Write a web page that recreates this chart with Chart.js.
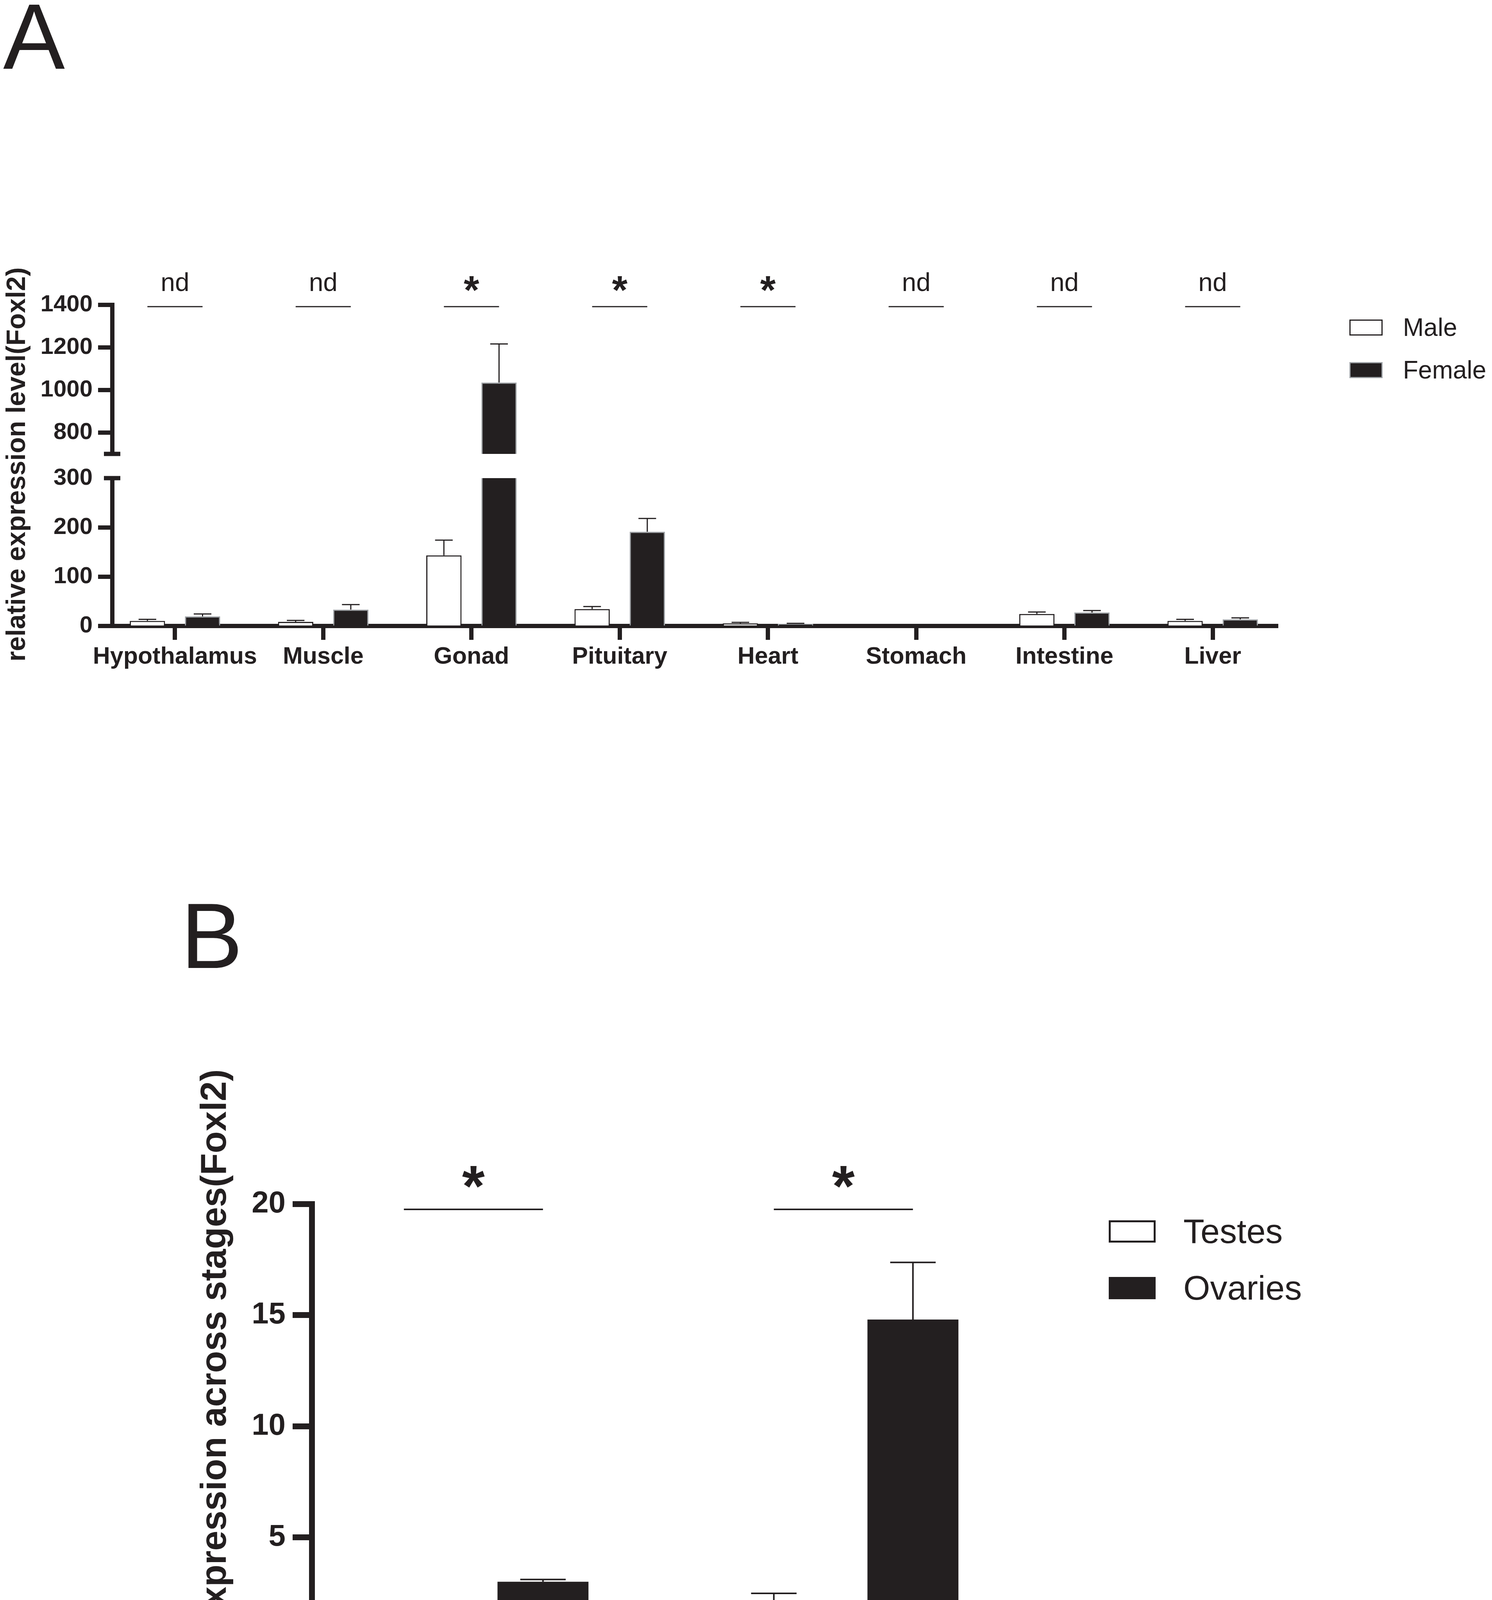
<!DOCTYPE html>
<html>
<head>
<meta charset="utf-8">
<script src="https://cdn.jsdelivr.net/npm/chart.js@4.4.0/dist/chart.umd.min.js"></script>
<style>
  html, body { margin: 0; padding: 0; background: #fff; }
  #page { position: relative; width: 3819px; height: 4579px; overflow: hidden; background: #fff; }
  canvas { position: absolute; left: 0; }
</style>
</head>
<body>
<div id="page">
  <canvas id="graphATop" width="3819" height="1800" style="top:0"></canvas>
  <canvas id="graphABottom" width="3819" height="1800" style="top:0"></canvas>
  <canvas id="graphB" width="3819" height="2379" style="top:2200px"></canvas>
</div>
<script>
// panel A: tissues
const tissues = ["Hypothalamus", "Muscle", "Gonad", "Pituitary", "Heart", "Stomach", "Intestine", "Liver"]
const maleLevel = [10, 8, 143, 34, 5, 0, 24, 10]
const maleError = [3, 3, 31, 5, 2, 0, 4, 3]
const femaleLevel = [19, 33, 1035, 191, 4, 0, 27, 13]
const femaleError = [5, 10, 181, 27, 1, 0, 4, 3]
const tissueMarks = ["nd", "nd", "*", "*", "*", "nd", "nd", "nd"]
const upperTicks = [800, 1000, 1200, 1400]
const lowerTicks = [0, 100, 200, 300]
const sexLabels = ["Male", "Female"]

// panel B: stages
const stages = ["8 month", "12 month"]
const testesLevel = [0.97, 2.03]
const testesError = [0.37, 0.45]
const ovariesLevel = [3.0, 14.8]
const ovariesError = [0.1, 2.57]
const stageMarks = ["*", "*"]
const stageTicks = [0, 5, 10, 15, 20]
const organLabels = ["Testes", "Ovaries"]

const INK = "#231f20"
const GREY = "#9ea2a6"
const FONT = '"Liberation Sans", Arial, Helvetica, sans-serif'
const B_TOP = 2200

function points(values) {
    return values.map((v, i) => ({ x: i, y: v }))
}

const errorBars = {
    id: "errorBars",
    afterDatasetsDraw(chart, args, o) {
        const ctx = chart.ctx
        const area = chart.chartArea
        const y = chart.scales.y
        ctx.save()
        ctx.beginPath()
        ctx.rect(0, area.top, chart.width, area.bottom - area.top)
        ctx.clip()
        ctx.strokeStyle = INK
        ctx.lineWidth = o.width
        chart.data.datasets.forEach((ds, d) => {
            chart.getDatasetMeta(d).data.forEach((bar, i) => {
                const err = ds.errors[i]
                if (!err) return
                const top = y.getPixelForValue(ds.data[i].y + err)
                const half = bar.width / 4
                ctx.beginPath()
                ctx.moveTo(bar.x, bar.y)
                ctx.lineTo(bar.x, top)
                ctx.moveTo(bar.x - half, top)
                ctx.lineTo(bar.x + half, top)
                ctx.stroke()
            })
        })
        ctx.restore()
    }
}

const significance = {
    id: "significance",
    afterDraw(chart, args, o) {
        if (!o.marks) return
        const ctx = chart.ctx
        const first = chart.getDatasetMeta(0).data
        const second = chart.getDatasetMeta(1).data
        const top = chart.chartArea.top
        ctx.save()
        ctx.strokeStyle = INK
        ctx.fillStyle = INK
        ctx.lineWidth = o.lineWidth
        ctx.textAlign = "center"
        ctx.textBaseline = "alphabetic"
        o.marks.forEach((m, i) => {
            const x1 = first[i].x
            const x2 = second[i].x
            const ly = top + o.lineOffset
            ctx.beginPath()
            ctx.moveTo(x1, ly)
            ctx.lineTo(x2, ly)
            ctx.stroke()
            const star = m === "*"
            ctx.font = star ? o.starFont : o.textFont
            ctx.fillText(m, (x1 + x2) / 2, top + (star ? o.starBase : o.textBase))
        })
        ctx.restore()
    }
}

const legendBoxes = {
    id: "legendBoxes",
    afterDraw(chart, args, o) {
        if (!o.left) return
        const ctx = chart.ctx
        ctx.save()
        ctx.font = o.font
        ctx.textAlign = "left"
        ctx.textBaseline = "alphabetic"
        chart.data.datasets.forEach((ds, i) => {
            const y = o.top + i * o.step
            ctx.fillStyle = ds.backgroundColor
            ctx.fillRect(o.left, y, o.boxW, o.boxH)
            if (ds.borderWidth) {
                ctx.lineWidth = o.boxLine
                ctx.strokeStyle = ds.borderColor
                ctx.strokeRect(o.left + o.boxLine / 2, y + o.boxLine / 2, o.boxW - o.boxLine, o.boxH - o.boxLine)
            }
            ctx.fillStyle = INK
            ctx.fillText(ds.label, o.textX, y + o.textBase)
        })
        ctx.restore()
    }
}

const axisBreak = {
    id: "axisBreak",
    afterDraw(chart, args, o) {
        if (!o.edge) return
        const ctx = chart.ctx
        const a = chart.chartArea
        const y = o.edge === "bottom" ? a.bottom : a.top
        ctx.save()
        ctx.fillStyle = INK
        ctx.fillRect(a.left - o.half, y - o.width / 2, o.half * 2, o.width)
        ctx.restore()
    }
}

const panelText = {
    id: "panelText",
    afterDraw(chart, args, o) {
        if (!o.letter) return
        const ctx = chart.ctx
        ctx.save()
        ctx.fillStyle = INK
        ctx.textAlign = "left"
        ctx.textBaseline = "alphabetic"
        ctx.font = o.letterFont
        ctx.fillText(o.letter, o.letterX, o.letterY)
        ctx.translate(o.titleX, o.titleY)
        ctx.rotate(-Math.PI / 2)
        ctx.textAlign = "center"
        ctx.font = o.titleFont
        ctx.fillText(o.title, 0, 0)
        ctx.restore()
    }
}

function yScale(min, max, tickList, width, size, line, tick, pad, hideTop) {
    return {
        type: "linear",
        min: min,
        max: max,
        afterBuildTicks: axis => { axis.ticks = tickList.map(v => ({ value: v })) },
        afterFit: axis => { axis.width = width },
        border: { display: true, width: line, color: INK },
        grid: {
            drawOnChartArea: false,
            drawTicks: true,
            tickLength: tick,
            tickWidth: line,
            tickColor: c => (hideTop && c.tick && c.tick.value === max) ? "rgba(0,0,0,0)" : INK
        },
        ticks: {
            color: INK,
            padding: pad,
            font: { family: FONT, size: size, weight: "bold" },
            callback: v => String(v)
        }
    }
}

function xScale(min, max, names, show, height, size, line, tick, pad) {
    return {
        type: "linear",
        display: show,
        min: min,
        max: max,
        offset: false,
        afterBuildTicks: axis => { axis.ticks = names.map((n, i) => ({ value: i })) },
        afterFit: axis => { if (show) axis.height = height },
        border: { display: true, width: line, color: INK },
        grid: {
            offset: false,
            drawOnChartArea: false,
            drawTicks: true,
            tickLength: tick,
            tickWidth: line,
            tickColor: INK
        },
        ticks: {
            color: INK,
            padding: pad,
            autoSkip: false,
            maxRotation: 0,
            minRotation: 0,
            font: { family: FONT, size: size, weight: "bold" },
            callback: v => names[v]
        }
    }
}

function tissueData() {
    return {
        datasets: [{
            label: sexLabels[0],
            data: points(maleLevel),
            errors: maleError,
            backgroundColor: "#ffffff",
            borderColor: INK,
            borderWidth: 3,
            categoryPercentage: 0.744,
            barPercentage: 0.64,
            clip: 0
        }, {
            label: sexLabels[1],
            data: points(femaleLevel),
            errors: femaleError,
            backgroundColor: INK,
            borderColor: GREY,
            borderWidth: 3,
            categoryPercentage: 0.744,
            barPercentage: 0.64,
            clip: 0
        }]
    }
}

const basePlugins = {
    legend: { display: false },
    tooltip: { enabled: false },
    errorBars: { width: 3 }
}

// upper segment of the broken axis
new Chart(document.getElementById("graphATop"), {
    type: "bar",
    data: tissueData(),
    plugins: [errorBars, significance, legendBoxes, axisBreak],
    options: {
        responsive: false,
        animation: false,
        devicePixelRatio: 1,
        layout: { padding: { top: 780, bottom: 1800 - 1162, left: 0, right: 3819 - 3271 } },
        scales: {
            x: xScale(-0.424, 7.44, tissues, false, 0, 61, 11, 36, 10),
            y: yScale(700, 1400, upperTicks, 287, 60, 11, 36, 14, false)
        },
        plugins: Object.assign({}, basePlugins, {
            significance: {
                marks: tissueMarks, lineWidth: 3, lineOffset: 5,
                textFont: "66px " + FONT, textBase: -35,
                starFont: "bold 102px " + FONT, starBase: -3
            },
            legendBoxes: {
                left: 3454, top: 818, step: 109, boxW: 85, boxH: 41, boxLine: 3,
                textX: 3591, textBase: 42, font: "64px " + FONT
            },
            axisBreak: { edge: "bottom", half: 21, width: 11 }
        })
    }
})

// lower segment with the category axis
new Chart(document.getElementById("graphABottom"), {
    type: "bar",
    data: tissueData(),
    plugins: [errorBars, axisBreak, panelText],
    options: {
        responsive: false,
        animation: false,
        devicePixelRatio: 1,
        layout: { padding: { top: 1224, bottom: 0, left: 0, right: 3819 - 3271 } },
        scales: {
            x: xScale(-0.424, 7.44, tissues, true, 1800 - 1602, 61, 11, 36, 8),
            y: yScale(0, 300, lowerTicks, 287, 60, 11, 36, 14, true)
        },
        plugins: Object.assign({}, basePlugins, {
            axisBreak: { edge: "top", half: 21, width: 11 },
            panelText: {
                letter: "A", letterX: 8, letterY: 176, letterFont: "237px " + FONT,
                title: "relative expression level(Foxl2)", titleX: 64, titleY: 1189,
                titleFont: "bold 68px " + FONT
            }
        })
    }
})

// panel B
new Chart(document.getElementById("graphB"), {
    type: "bar",
    data: {
        datasets: [{
            label: organLabels[0],
            data: points(testesLevel),
            errors: testesError,
            backgroundColor: "#ffffff",
            borderColor: INK,
            borderWidth: 5,
            categoryPercentage: 0.752,
            barPercentage: 0.654,
            clip: 0
        }, {
            label: organLabels[1],
            data: points(ovariesLevel),
            errors: ovariesError,
            backgroundColor: INK,
            borderColor: INK,
            borderWidth: 0,
            categoryPercentage: 0.752,
            barPercentage: 0.654,
            clip: 0
        }]
    },
    plugins: [errorBars, significance, legendBoxes, panelText],
    options: {
        responsive: false,
        animation: false,
        devicePixelRatio: 1,
        layout: { padding: { top: 3082 - B_TOP, bottom: 0, left: 0, right: 3819 - 2583 } },
        scales: {
            x: xScale(-0.437, 1.448, stages, true, 2379 - (4220 - B_TOP), 82, 15, 51, 16),
            y: yScale(0, 20, stageTicks, 798, 78, 15, 49, 18, false)
        },
        plugins: {
            legend: { display: false },
            tooltip: { enabled: false },
            errorBars: { width: 4 },
            significance: {
                marks: stageMarks, lineWidth: 4, lineOffset: 14,
                textFont: "88px " + FONT, textBase: -40,
                starFont: "bold 149px " + FONT, starBase: 5
            },
            legendBoxes: {
                left: 2838, top: 3124 - B_TOP, step: 145, boxW: 120, boxH: 57, boxLine: 5,
                textX: 3029, textBase: 58, font: "88px " + FONT
            },
            panelText: {
                letter: "B", letterX: 463, letterY: 2478 - B_TOP, letterFont: "237px " + FONT,
                title: "Relative expression across stages(Foxl2)", titleX: 578, titleY: 3640 - B_TOP,
                titleFont: "bold 92px " + FONT
            }
        }
    }
})
</script>
</body>
</html>
